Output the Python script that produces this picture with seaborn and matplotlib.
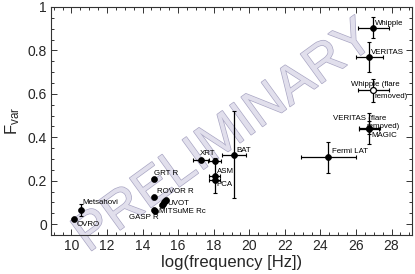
import numpy as np
import pandas as pd
import matplotlib
matplotlib.use("Agg")
import matplotlib.pyplot as plt
import matplotlib.patheffects as pe
from matplotlib.ticker import MultipleLocator, FuncFormatter
import seaborn as sns

# ---------------- data ----------------
instrument = ["OVRO", "Metsahovi", "GRT R", "ROVOR R", "GASP R", "MITSuME Rc",
              "UVOT", "UVOT", "UVOT", "UVOT", "UVOT",
              "XRT", "XRT", "ASM", "PCA", "BAT", "Fermi LAT",
              "VERITAS", "Whipple", "Whipple (flare removed)",
              "VERITAS (flare removed)", "MAGIC"]
log_freq = [10.15, 10.55, 14.65, 14.67, 14.67, 14.68,
            15.08, 15.13, 15.19, 15.25, 15.30,
            17.30, 18.05, 18.05, 18.05, 19.13, 24.45,
            26.76, 26.98, 26.98,
            26.76, 26.72]
fvar = [0.022, 0.065, 0.207, 0.126, 0.065, 0.062,
        0.090, 0.095, 0.100, 0.106, 0.110,
        0.295, 0.293, 0.220, 0.205, 0.320, 0.307,
        0.770, 0.904, 0.616,
        0.445, 0.440]
log_freq_err = [0, 0, 0, 0, 0, 0,
                0, 0, 0, 0, 0,
                0.45, 0.35, 0.30, 0.30, 0.66, 1.55,
                0.77, 0.87, 0.85,
                0.60, 0.55]
fvar_err = [0.005, 0.028, 0.010, 0.005, 0.005, 0.004,
            0.004, 0.004, 0.004, 0.004, 0.004,
            0.010, 0.010, 0.075, 0.010, 0.200, 0.071,
            0.070, 0.048, 0.053,
            0.030, 0.073]
filled = [True] * 19 + [False] + [True, True]

x_ticks = [10, 12, 14, 16, 18, 20, 22, 24, 26, 28]
y_ticks = [0, 0.2, 0.4, 0.6, 0.8, 1.0]

# label text, index of anchor point, offset (pixels), horizontal alignment
labels = [
    ("OVRO", 0, (3, -5), "left"),
    ("Metsahovi", 1, (1, 8), "left"),
    ("GRT R", 2, (0, 6), "left"),
    ("ROVOR R", 3, (3, 5), "left"),
    ("GASP R", 4, (4, -7), "right"),
    ("MITSuME Rc", 4, (5, -1), "left"),
    ("UVOT", 10, (2, -3), "left"),
    ("XRT", 11, (-1, 7), "left"),
    ("ASM", 13, (2, 5), "left"),
    ("PCA", 14, (2, -5), "left"),
    ("BAT", 15, (3, 4), "left"),
    ("Fermi LAT", 16, (4, 6), "left"),
    ("VERITAS", 17, (1, 4), "left"),
    ("Whipple", 18, (2, 4), "left"),
    ("Whipple (flare", 19, (-22, 6), "left"),
    ("removed)", 19, (1, -6), "left"),
    ("VERITAS (flare", 20, (-36, 9), "left"),
    ("removed)", 20, (-3, 1), "left"),
    ("MAGIC", 21, (3, -7), "left"),
]

df = pd.DataFrame({"instrument": instrument, "log_freq": log_freq, "fvar": fvar,
                   "xerr": log_freq_err, "yerr": fvar_err, "filled": filled})

# ---------------- style ----------------
sns.set_style("ticks")
plt.rcParams["font.family"] = ["Liberation Sans", "DejaVu Sans"]
plt.rcParams["mathtext.fontset"] = "custom"
plt.rcParams["mathtext.rm"] = "Liberation Sans"
plt.rcParams["mathtext.it"] = "Liberation Sans"
plt.rcParams["mathtext.bf"] = "Liberation Sans:bold"

fig = plt.figure(figsize=(4.15, 2.74), dpi=100)
ax = fig.add_axes([51 / 415, 1 - 235 / 274, 361 / 415, 228 / 274])
ax.set_facecolor("white")

# watermark
ax.text(0.48, 0.43, "PRELIMINARY", transform=ax.transAxes, fontsize=38,
        rotation=36, ha="center", va="center", color="#e1dfec", zorder=1,
        path_effects=[pe.withStroke(linewidth=1.0, foreground="#aaa7c4")])

# error bars
mx = df["xerr"] > 0
ax.errorbar(df.loc[mx, "log_freq"], df.loc[mx, "fvar"], xerr=df.loc[mx, "xerr"],
            fmt="none", ecolor="black", elinewidth=0.9, capsize=1.6,
            capthick=0.8, zorder=2)
my = df["yerr"] > 0
ax.errorbar(df.loc[my, "log_freq"], df.loc[my, "fvar"], yerr=df.loc[my, "yerr"],
            fmt="none", ecolor="black", elinewidth=0.9, capsize=1.6,
            capthick=0.8, zorder=2)

sns.scatterplot(data=df[df["filled"]], x="log_freq", y="fvar", color="black",
                edgecolor="black", s=18, linewidth=0.5, ax=ax, zorder=3, legend=False)
sns.scatterplot(data=df[~df["filled"]], x="log_freq", y="fvar", facecolor="white",
                edgecolor="black", s=18, linewidth=0.9, ax=ax, zorder=3, legend=False)

for text, idx, off, ha in labels:
    ax.annotate(text, (log_freq[idx], fvar[idx]), xytext=off,
                textcoords="offset pixels", fontsize=5.7, ha=ha, va="center",
                color="black", zorder=4)

ax.set_xlim(8.85, 29.15)
ax.set_ylim(-0.05, 1.0)
ax.set_xticks(x_ticks)
ax.set_yticks(y_ticks)
ax.xaxis.set_minor_locator(MultipleLocator(0.5))
ax.yaxis.set_minor_locator(MultipleLocator(0.05))
ax.yaxis.set_major_formatter(FuncFormatter(lambda v, p: f"{v:g}"))
ax.tick_params(which="both", direction="in", top=True, right=True,
               color="#333333", width=0.7)
ax.tick_params(which="major", length=4, labelsize=10, pad=3)
ax.tick_params(which="minor", length=2)
for s in ax.spines.values():
    s.set_color("#333333")
    s.set_linewidth(0.8)

ax.set_xlabel("log(frequency [Hz])", fontsize=12, labelpad=1)
ax.set_ylabel("$\\mathregular{F_{var}}$", fontsize=12, labelpad=4)

fig.savefig("out.png", dpi=100)
